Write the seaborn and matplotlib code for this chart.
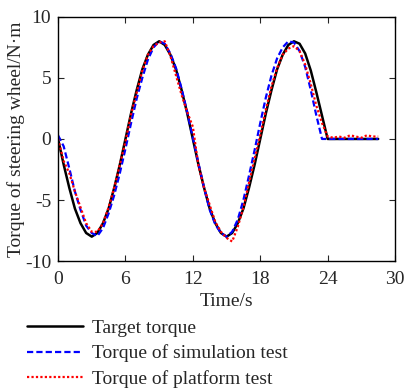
import numpy as np
import pandas as pd
import matplotlib
matplotlib.use('Agg')
import matplotlib.pyplot as plt
import seaborn as sns

# time axis (s)
time = [0.0, 0.5, 1.0, 1.5, 2.0, 2.5, 3.0, 3.5, 4.0, 4.5, 5.0, 5.5, 6.0, 6.5, 7.0, 7.5,
        8.0, 8.5, 9.0, 9.5, 10.0, 10.5, 11.0, 11.5, 12.0, 12.5, 13.0, 13.5, 14.0, 14.5,
        15.0, 15.5, 16.0, 16.5, 17.0, 17.5, 18.0, 18.5, 19.0, 19.5, 20.0, 20.5, 21.0,
        21.5, 22.0, 22.5, 23.0, 23.5, 24.0, 24.5, 25.0, 25.5, 26.0, 26.5, 27.0, 27.5,
        28.0, 28.5]

target = [0.0, -2.1, -4.0, -5.7, -6.9, -7.7, -8.0, -7.7, -6.9, -5.7, -4.0, -2.1, 0.0,
          2.1, 4.0, 5.7, 6.9, 7.7, 8.0, 7.7, 6.9, 5.7, 4.0, 2.1, 0.0, -2.1, -4.0, -5.7,
          -6.9, -7.7, -8.0, -7.7, -6.9, -5.7, -4.0, -2.1, 0.0, 2.1, 4.0, 5.7, 6.9, 7.7,
          8.0, 7.8, 7.0, 5.6, 3.8, 1.9, 0.0, 0.0, 0.0, 0.0, 0.0, 0.0, 0.0, 0.0, 0.0, 0.0]

simulation = [0.3, -0.6, -2.4, -4.3, -5.8, -7.1, -7.7, -7.95, -7.3, -6.1, -4.6, -2.8,
              -0.8, 1.3, 3.3, 5.0, 6.5, 7.5, 8.0, 7.8, 7.0, 5.8, 4.1, 2.2, 0.1, -2.0,
              -4.0, -5.8, -7.0, -7.7, -8.0, -7.6, -6.6, -5.0, -3.0, -0.9, 1.3, 3.4, 5.2,
              6.6, 7.5, 8.0, 7.9, 7.2, 5.9, 4.0, 1.9, 0.0, 0.0, 0.0, 0.0, 0.0, 0.0, 0.0,
              0.0, 0.0, 0.0, 0.0]

platform = [0.0, -1.8, -2.8, -4.3, -5.6, -6.9, -7.6, -7.6, -6.9, -5.6, -4.0, -2.1, -0.2,
            2.0, 3.8, 5.6, 6.9, 7.6, 7.9, 8.0, 6.8, 5.2, 3.6, 2.2, 1.0, -2.2, -4.0, -5.4,
            -6.8, -7.6, -8.1, -8.4, -7.2, -5.6, -3.6, -1.6, 0.3, 2.4, 4.3, 5.8, 6.9, 7.4,
            7.6, 7.2, 6.1, 4.5, 2.7, 1.3, 0.2, 0.1, 0.2, 0.1, 0.3, 0.2, 0.1, 0.3, 0.2, 0.2]

labels = ['Target torque', 'Torque of simulation test', 'Torque of platform test']

sns.set_style('ticks')
plt.rcParams['font.family'] = ['Liberation Serif', 'DejaVu Serif']
plt.rcParams['axes.unicode_minus'] = False

fig = plt.figure(figsize=(4.06, 3.92), dpi=100)
ax = fig.add_axes([0.143, 0.334, 0.830, 0.623])

sns.lineplot(x=time, y=target, ax=ax, color='black', lw=1.8, label=labels[0])
sns.lineplot(x=time, y=simulation, ax=ax, color='blue', lw=1.6, linestyle=(0, (2.8, 1.4)), label=labels[1])
sns.lineplot(x=time, y=platform, ax=ax, color='red', lw=1.6, linestyle=(0, (1, 1)), label=labels[2])

ax.set_xlim(0, 30)
ax.set_ylim(-10, 10)
ax.set_xticks([0, 6, 12, 18, 24, 30])
ax.set_yticks([-10, -5, 0, 5, 10])
ax.tick_params(direction='in', top=True, right=True, labelsize=14, length=4, width=0.8)
ax.tick_params(axis='x', pad=7)
ax.tick_params(axis='y', pad=5)
for sp in ax.spines.values():
    sp.set_linewidth(1.0)
    sp.set_color('black')

ax.set_xlabel('Time/s', fontsize=14, labelpad=4)
ax.set_ylabel('Torque of steering wheel/N\u00b7m', fontsize=14, labelpad=0)

handles, lbls = ax.get_legend_handles_labels()
ax.get_legend().remove()
fig.legend(handles, lbls, loc='upper left', bbox_to_anchor=(0.066, 0.185), frameon=False,
           fontsize=14, handlelength=2.9, handletextpad=0.45, labelspacing=0.38,
           borderaxespad=0, borderpad=0)

fig.savefig('out.png', dpi=100)
